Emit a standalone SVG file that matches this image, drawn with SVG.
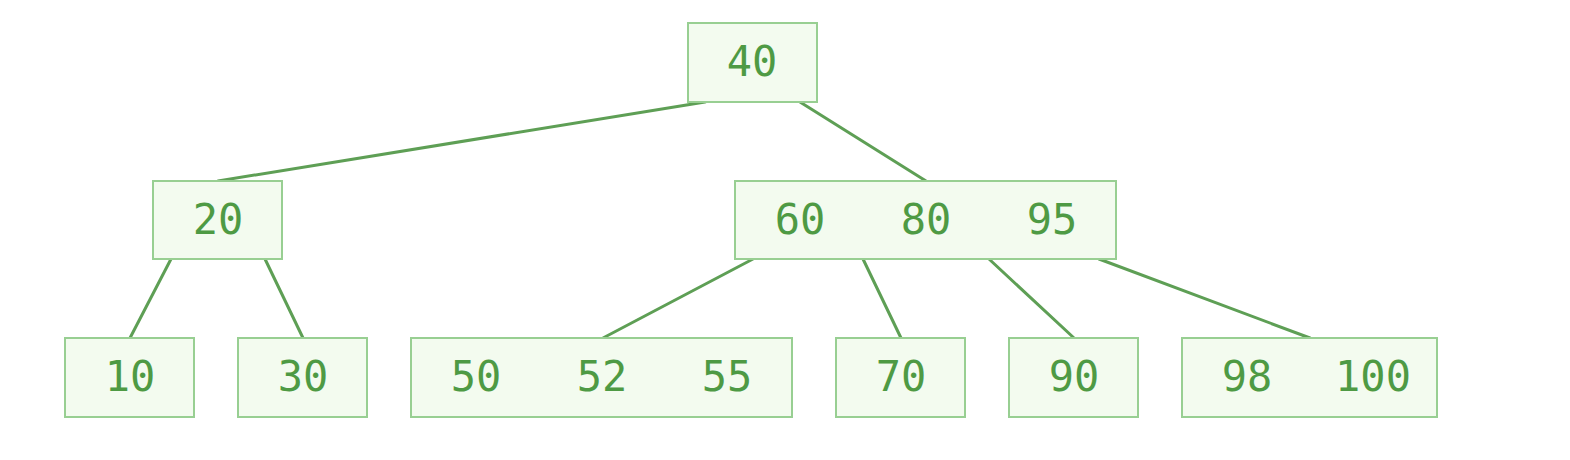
<svg xmlns="http://www.w3.org/2000/svg" width="1570" height="460" viewBox="0 0 1570 460">
<style>
.box{fill:#f3fbef;stroke:#98cf92;stroke-width:2}
.t{font-family:"DejaVu Sans Mono","Liberation Mono",monospace;font-size:42px;fill:#4e9a44;text-anchor:middle}
.edge{stroke:#5e9f55;stroke-width:3;fill:none;stroke-linecap:round}
</style>
<rect width="1570" height="460" fill="#ffffff"/>
<g id="connectors">
<line class="edge" x1="705" y1="102" x2="218" y2="181"/>
<line class="edge" x1="800" y1="102" x2="926" y2="181"/>
<line class="edge" x1="171" y1="259" x2="130" y2="338"/>
<line class="edge" x1="265" y1="259" x2="303" y2="338"/>
<line class="edge" x1="753" y1="259" x2="603" y2="338"/>
<line class="edge" x1="863" y1="259" x2="901" y2="338"/>
<line class="edge" x1="989" y1="259" x2="1074" y2="338"/>
<line class="edge" x1="1099" y1="259" x2="1310" y2="338"/>
</g>
<g id="n40"><rect class="box" x="688" y="23" width="129" height="79"/><text class="t" x="752" y="76">40</text></g>
<g id="n20"><rect class="box" x="153" y="181" width="129" height="78"/><text class="t" x="218" y="234">20</text></g>
<g id="n60_80_95"><rect class="box" x="735" y="181" width="381" height="78"/><text class="t" x="800" y="234">60</text><text class="t" x="926" y="234">80</text><text class="t" x="1052" y="234">95</text></g>
<g id="n10"><rect class="box" x="65" y="338" width="129" height="79"/><text class="t" x="130" y="391">10</text></g>
<g id="n30"><rect class="box" x="238" y="338" width="129" height="79"/><text class="t" x="303" y="391">30</text></g>
<g id="n50_52_55"><rect class="box" x="411" y="338" width="381" height="79"/><text class="t" x="476" y="391">50</text><text class="t" x="602" y="391">52</text><text class="t" x="727" y="391">55</text></g>
<g id="n70"><rect class="box" x="836" y="338" width="129" height="79"/><text class="t" x="901" y="391">70</text></g>
<g id="n90"><rect class="box" x="1009" y="338" width="129" height="79"/><text class="t" x="1074" y="391">90</text></g>
<g id="n98_100"><rect class="box" x="1182" y="338" width="255" height="79"/><text class="t" x="1247" y="391">98</text><text class="t" x="1373" y="391">100</text></g>
</svg>
